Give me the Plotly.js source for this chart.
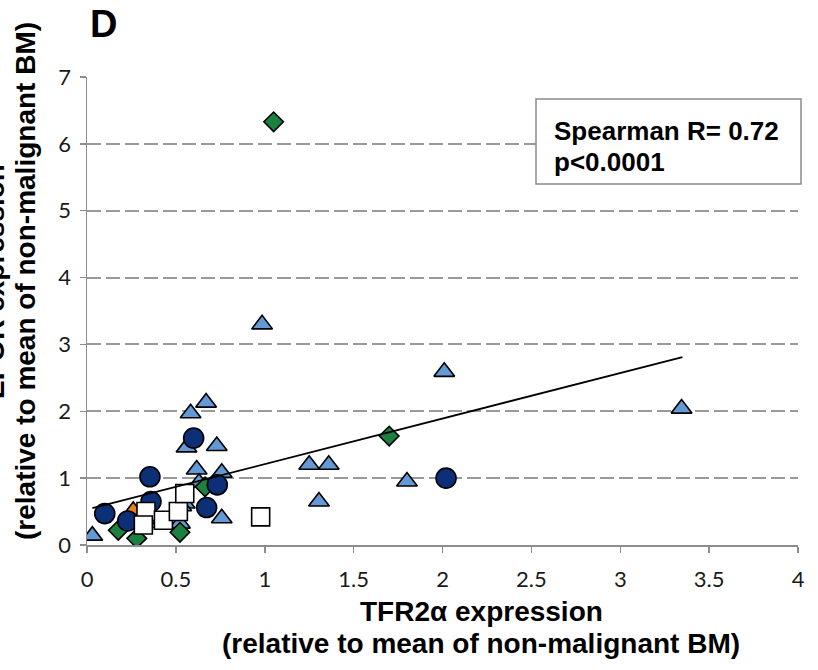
<!DOCTYPE html>
<html>
<head>
<meta charset="utf-8">
<script src="https://cdn.plot.ly/plotly-3.0.1.min.js"></script>
<style>html,body{margin:0;padding:0;background:#fff}#chart{width:818px;height:670px}</style>
</head>
<body>
<div id="chart"></div>
<script>
// ---- data ----
const triX = [0.03, 0.985, 2.01, 3.345, 1.25, 1.36, 1.80, 1.305, 0.67, 0.583, 0.56, 0.73, 0.617, 0.758, 0.63, 0.758, 0.523, 0.55, 0.53];
const triY = [0.14, 3.30, 2.59, 2.04, 1.20, 1.20, 0.95, 0.65, 2.13, 1.97, 1.46, 1.48, 1.13, 1.08, 0.93, 0.40, 0.32, 0.62, 0.58];
const orangeX = [0.26, 0.336];
const orangeY = [0.51, 0.33];
const diaX = [1.05, 1.70, 0.664, 0.176, 0.28, 0.523];
const diaY = [6.33, 1.63, 0.87, 0.22, 0.10, 0.19];
const circX = [0.10, 0.229, 0.354, 0.36, 0.60, 0.733, 0.673, 2.02];
const circY = [0.47, 0.36, 1.02, 0.65, 1.60, 0.90, 0.56, 1.00];
const sqX = [0.332, 0.317, 0.43, 0.514, 0.55, 0.977];
const sqY = [0.50, 0.30, 0.37, 0.50, 0.77, 0.42];
const trendX = [0.03, 3.35];
const trendY = [0.55, 2.81];
const xTicks = [0, 0.5, 1, 1.5, 2, 2.5, 3, 3.5, 4];
const xTickText = ['0', '0.5', '1', '1.5', '2', '2.5', '3', '3.5', '4'];
const yTicks = [0, 1, 2, 3, 4, 5, 6, 7];
const statLines = ['Spearman R= 0.72', 'p<0.0001'];
const xTitleLines = ['TFR2α expression', '(relative to mean of non-malignant BM)'];
const yTitleLines = ['EPOR expression', '(relative to mean of non-malignant BM)'];

const edge = {color: '#000', width: 1.6};
const traces = [
  {x: triX, y: triY, type: 'scatter', mode: 'markers', hoverinfo: 'none',
   marker: {symbol: 'triangle-up', size: 18, color: '#6399D4', line: edge}},
  {x: orangeX, y: orangeY, type: 'scatter', mode: 'markers', hoverinfo: 'none',
   marker: {symbol: 'triangle-up', size: 18, color: '#E8801E', line: edge}},
  {x: diaX, y: diaY, type: 'scatter', mode: 'markers', hoverinfo: 'none',
   marker: {symbol: 'diamond', size: 15, color: '#1B8040', line: edge}},
  {x: circX, y: circY, type: 'scatter', mode: 'markers', hoverinfo: 'none',
   marker: {symbol: 'circle', size: 20, color: '#0C2F78', line: edge}},
  {x: sqX, y: sqY, type: 'scatter', mode: 'markers', hoverinfo: 'none',
   marker: {symbol: 'square', size: 18, color: '#FFFFFF', line: edge}},
  {x: trendX, y: trendY, type: 'scatter', mode: 'lines', hoverinfo: 'none',
   line: {color: '#000', width: 1.8}}
];

const tickFont = {family: 'Lato, "Liberation Sans", sans-serif', size: 22, color: '#1a1a1a'};
const titleFont = {family: '"Liberation Sans", Arial, sans-serif', size: 28, color: '#000'};
const statFont = {family: '"Liberation Sans", Arial, sans-serif', size: 26, color: '#000'};

const W = 711, H = 468, L = 87, B = 545;
const px = v => (v - L) / W;
const py = v => (B - v) / H;

const annotations = [
  {xref: 'paper', yref: 'paper', x: px(103), y: py(24), xanchor: 'center', yanchor: 'middle',
   text: '<b>D</b>', showarrow: false,
   font: {family: '"Liberation Sans", Arial, sans-serif', size: 38, color: '#000'}},
  {xref: 'paper', yref: 'paper', x: px(552), y: py(131), xanchor: 'left', yanchor: 'middle',
   text: '<b>' + statLines[0] + '</b>', showarrow: false, font: statFont},
  {xref: 'paper', yref: 'paper', x: px(552), y: py(162), xanchor: 'left', yanchor: 'middle',
   text: '<b>' + statLines[1].replace('<', '&lt;') + '</b>', showarrow: false, font: statFont},
  {xref: 'paper', yref: 'paper', x: px(481), y: py(611), xanchor: 'center', yanchor: 'middle',
   text: '<b>' + xTitleLines[0] + '</b>', showarrow: false, font: titleFont},
  {xref: 'paper', yref: 'paper', x: px(481), y: py(643), xanchor: 'center', yanchor: 'middle',
   text: '<b>' + xTitleLines[1] + '</b>', showarrow: false, font: titleFont},
  {xref: 'paper', yref: 'paper', x: px(-6), y: py(281), xanchor: 'center', yanchor: 'middle',
   textangle: -90, text: '<b>' + yTitleLines[0] + '</b>', showarrow: false, font: titleFont},
  {xref: 'paper', yref: 'paper', x: px(25), y: py(281), xanchor: 'center', yanchor: 'middle',
   textangle: -90, text: '<b>' + yTitleLines[1] + '</b>', showarrow: false, font: titleFont}
];

const layout = {
  width: 818, height: 670,
  margin: {l: 87, r: 20, t: 77, b: 125},
  paper_bgcolor: '#fff', plot_bgcolor: '#fff',
  showlegend: false,
  xaxis: {
    range: [0, 4], tickvals: xTicks, ticktext: xTickText,
    showgrid: false, zeroline: false,
    showline: true, linecolor: '#8c8c8c', linewidth: 1.5,
    ticks: 'outside', ticklen: 6, tickcolor: '#8c8c8c', tickwidth: 1.5,
    ticklabelstandoff: 8, tickfont: tickFont
  },
  yaxis: {
    range: [0, 7], tickvals: yTicks,
    showgrid: true, gridcolor: '#9a9a9a', gridwidth: 2, griddash: '14px,5px',
    zeroline: false,
    showline: true, linecolor: '#8c8c8c', linewidth: 1.5,
    ticks: 'outside', ticklen: 6, tickcolor: '#8c8c8c', tickwidth: 1.5,
    ticklabelstandoff: 4, tickfont: tickFont
  },
  shapes: [
    {type: 'rect', xref: 'paper', yref: 'paper', x0: px(536), x1: px(801), y0: py(184), y1: py(99),
     line: {color: '#8c8c8c', width: 1.5}, fillcolor: '#fff', layer: 'above'}
  ],
  annotations: annotations
};

Plotly.newPlot('chart', traces, layout, {staticPlot: true, displayModeBar: false});
</script>
</body>
</html>
